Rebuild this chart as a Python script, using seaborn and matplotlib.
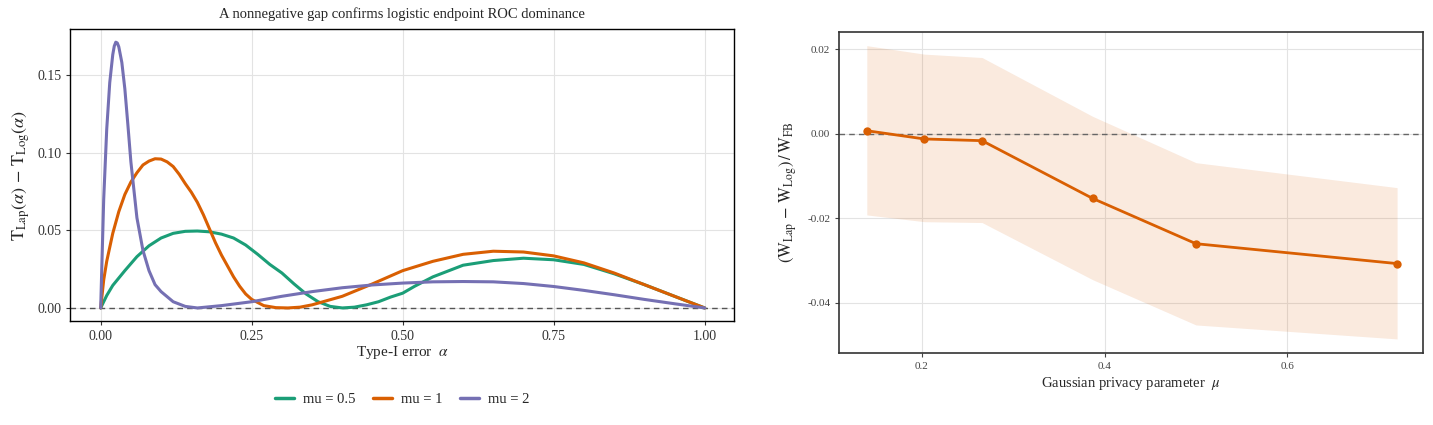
import numpy as np
import pandas as pd
import matplotlib
matplotlib.use("Agg")
import matplotlib.pyplot as plt
import seaborn as sns
from matplotlib.ticker import FuncFormatter

# --- 左パネル: T_Lap(alpha) - T_Log(alpha), 図から読み取った値 ---
alpha_mu05 = [0, 0.01, 0.02, 0.04, 0.06, 0.08, 0.10, 0.12, 0.14, 0.16, 0.18, 0.20, 0.22, 0.24,
              0.26, 0.28, 0.30, 0.32, 0.34, 0.36, 0.38, 0.40, 0.42, 0.44, 0.46, 0.48, 0.50,
              0.52, 0.55, 0.60, 0.65, 0.70, 0.75, 0.80, 0.85, 0.90, 0.95, 1.0]
gap_mu05 = [0, 0.008, 0.0145, 0.024, 0.033, 0.040, 0.045, 0.048, 0.0493, 0.0495, 0.049, 0.0475,
            0.045, 0.0405, 0.0345, 0.028, 0.0225, 0.0155, 0.009, 0.004, 0.001, 0.0, 0.0005,
            0.002, 0.004, 0.007, 0.0095, 0.014, 0.020, 0.0275, 0.0305, 0.032, 0.031, 0.028,
            0.022, 0.015, 0.0075, 0]

alpha_mu1 = [0, 0.005, 0.01, 0.02, 0.03, 0.04, 0.05, 0.06, 0.07, 0.08, 0.09, 0.10, 0.11, 0.12,
             0.13, 0.14, 0.15, 0.16, 0.17, 0.18, 0.19, 0.20, 0.21, 0.22, 0.23, 0.24, 0.25,
             0.27, 0.29, 0.31, 0.33, 0.35, 0.40, 0.45, 0.50, 0.55, 0.60, 0.65, 0.70, 0.75,
             0.80, 0.85, 0.90, 0.95, 1.0]
gap_mu1 = [0, 0.018, 0.03, 0.048, 0.062, 0.073, 0.081, 0.087, 0.092, 0.0945, 0.096, 0.0958,
           0.094, 0.091, 0.086, 0.080, 0.0745, 0.068, 0.060, 0.051, 0.042, 0.034, 0.027, 0.020,
           0.014, 0.009, 0.0055, 0.0015, 0.0002, 0.0, 0.0005, 0.002, 0.0075, 0.0155, 0.024,
           0.030, 0.0345, 0.0365, 0.036, 0.0335, 0.029, 0.0225, 0.015, 0.0075, 0]

alpha_mu2 = [0, 0.005, 0.01, 0.015, 0.02, 0.0225, 0.025, 0.0275, 0.03, 0.035, 0.04, 0.045,
             0.05, 0.06, 0.07, 0.08, 0.09, 0.10, 0.12, 0.14, 0.16, 0.20, 0.25, 0.30, 0.35,
             0.40, 0.45, 0.50, 0.55, 0.60, 0.65, 0.70, 0.75, 0.80, 0.85, 0.90, 0.95, 1.0]
gap_mu2 = [0, 0.07, 0.115, 0.145, 0.163, 0.1685, 0.171, 0.1705, 0.168, 0.158, 0.141, 0.118,
           0.094, 0.058, 0.037, 0.024, 0.015, 0.0105, 0.004, 0.001, 0.0, 0.0015, 0.004,
           0.0075, 0.0105, 0.013, 0.0148, 0.016, 0.0168, 0.017, 0.0168, 0.0157, 0.0138,
           0.0113, 0.0085, 0.0055, 0.0027, 0]

mu_labels = ["mu = 0.5", "mu = 1", "mu = 2"]
mu_colors = ["#1B9E77", "#D95F02", "#7570B3"]

# --- 右パネル: 相対幅の差 ---
mu_grid = [0.140, 0.203, 0.266, 0.387, 0.500, 0.720]
rel_diff = [0.0007, -0.00125, -0.00165, -0.0153, -0.0260, -0.0307]
rel_lo = [-0.0192, -0.0208, -0.0210, -0.0345, -0.0452, -0.0485]
rel_hi = [0.0208, 0.0188, 0.0180, 0.0041, -0.00685, -0.01275]

df_gap = pd.concat([
    pd.DataFrame({"alpha": alpha_mu05, "gap": gap_mu05, "mu": mu_labels[0]}),
    pd.DataFrame({"alpha": alpha_mu1, "gap": gap_mu1, "mu": mu_labels[1]}),
    pd.DataFrame({"alpha": alpha_mu2, "gap": gap_mu2, "mu": mu_labels[2]}),
], ignore_index=True)
df_rel = pd.DataFrame({"mu": mu_grid, "diff": rel_diff, "lo": rel_lo, "hi": rel_hi})

sns.set_style("white")
plt.rcParams["font.family"] = ["Liberation Serif", "DejaVu Serif"]
plt.rcParams["mathtext.fontset"] = "stix"

fig = plt.figure(figsize=(14.33, 4.25), dpi=100)
W, H = 1433, 425
ax1 = fig.add_axes([70.3 / W, (H - 321) / H, (734 - 70.3) / W, (321 - 29.3) / H])
ax2 = fig.add_axes([839.3 / W, (H - 353.3) / H, (1422.7 - 839.3) / W, (353.3 - 31.7) / H])

grid_kw = dict(color="#E3E3E3", linewidth=0.8)

# 左パネル
ax1.grid(True, **grid_kw)
ax1.set_axisbelow(True)
ax1.axhline(0, color="#555555", linestyle=(0, (4, 3)), linewidth=1.0, zorder=1)
sns.lineplot(data=df_gap, x="alpha", y="gap", hue="mu", hue_order=mu_labels,
             palette=mu_colors, linewidth=2.2, ax=ax1, sort=False, estimator=None)
ax1.set_xlim(-0.0503, 1.0485)
ax1.set_ylim(-0.0084, 0.1793)
ax1.set_xticks([0, 0.25, 0.5, 0.75, 1.0])
ax1.set_yticks([0, 0.05, 0.10, 0.15])
ax1.xaxis.set_major_formatter(FuncFormatter(lambda v, p: f"{v:.2f}"))
ax1.yaxis.set_major_formatter(FuncFormatter(lambda v, p: f"{v:.2f}"))
ax1.tick_params(axis="both", labelsize=10, colors="#333333", length=3, width=0.8, direction="out")
ax1.tick_params(left=True, bottom=True)
for s in ax1.spines.values():
    s.set_color("black")
    s.set_linewidth(1.0)
ax1.set_xlabel(r"Type-I error  $\alpha$", fontsize=11, labelpad=1)
ax1.set_ylabel(r"$\mathrm{T}_{\mathrm{Lap}}(\alpha)\,-\,\mathrm{T}_{\mathrm{Log}}(\alpha)$",
               fontsize=13, labelpad=4)
ax1.set_title("A nonnegative gap confirms logistic endpoint ROC dominance", fontsize=10.5, pad=8)
leg = ax1.legend(loc="upper center", bbox_to_anchor=(0.5, -0.2), ncol=3, frameon=False,
                 fontsize=10.5, handlelength=1.3, columnspacing=1.2, handletextpad=0.6)
for line in leg.get_lines():
    line.set_linewidth(2.5)

# 右パネル
ax2.grid(True, **grid_kw)
ax2.set_axisbelow(True)
ax2.fill_between(df_rel["mu"], df_rel["lo"], df_rel["hi"], color="#D95F02", alpha=0.13,
                 linewidth=0, zorder=1)
ax2.axhline(0, color="#666666", linestyle=(0, (4, 3)), linewidth=1.0, zorder=2)
sns.lineplot(data=df_rel, x="mu", y="diff", color="#D95F02", linewidth=2.0, marker="o",
             markersize=6, markeredgewidth=0, ax=ax2, zorder=3)
ax2.set_xlim(0.1099, 0.748)
ax2.set_ylim(-0.0519, 0.0241)
ax2.set_xticks([0.2, 0.4, 0.6])
ax2.set_yticks([0.02, 0.0, -0.02, -0.04])
ax2.xaxis.set_major_formatter(FuncFormatter(lambda v, p: f"{v:.1f}"))
ax2.yaxis.set_major_formatter(FuncFormatter(lambda v, p: f"{v:.2f}".replace("\u2212", "-")))
ax2.tick_params(axis="both", labelsize=8, colors="#444444", length=3, width=0.8, direction="out")
ax2.tick_params(left=True, bottom=True)
for s in ax2.spines.values():
    s.set_color("#333333")
    s.set_linewidth(1.2)
ax2.set_xlabel(r"Gaussian privacy parameter  $\mu$", fontsize=10.5, labelpad=3)
ax2.set_ylabel(r"$(\mathrm{W}_{\mathrm{Lap}}\,-\,\mathrm{W}_{\mathrm{Log}})\,/\,\mathrm{W}_{\mathrm{FB}}$",
               fontsize=12, labelpad=6)

fig.savefig("out.png", dpi=100)
